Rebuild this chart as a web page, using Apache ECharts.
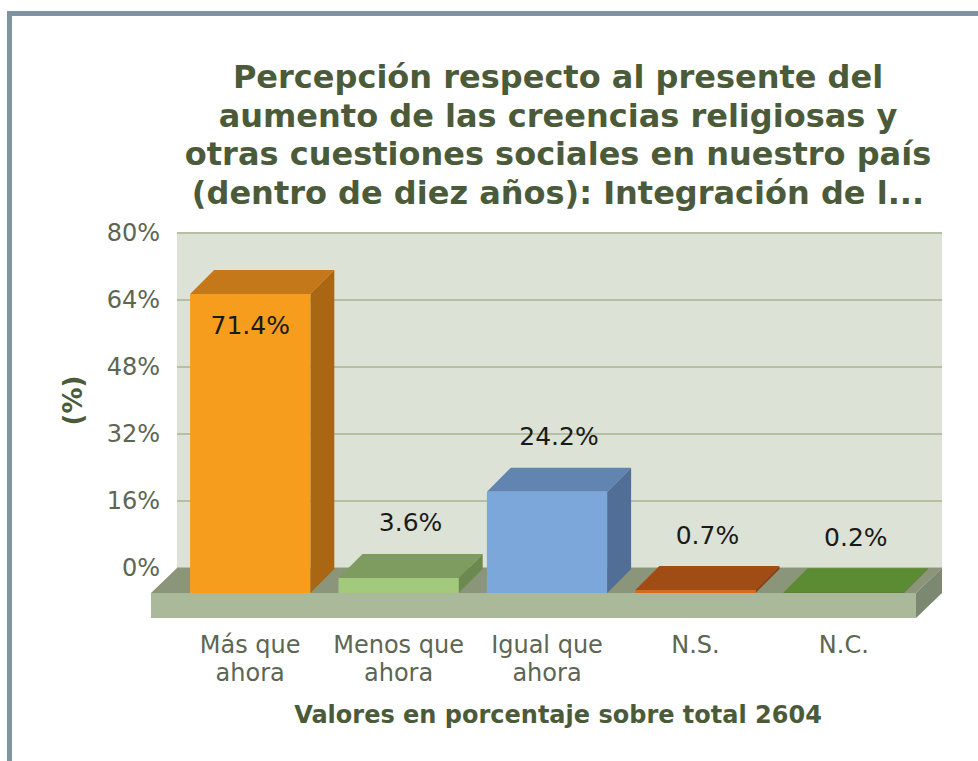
<!DOCTYPE html>
<html>
<head>
<meta charset="utf-8">
<script src="https://cdn.jsdelivr.net/npm/echarts@6/dist/echarts.min.js"></script>
<style>
  html, body { margin: 0; padding: 0; background: #fff; }
  #chart { width: 978px; height: 761px; }
</style>
</head>
<body>
<div id="chart"></div>
<script>
// datos del gráfico
const categories = ['Más que\nahora', 'Menos que\nahora', 'Igual que\nahora', 'N.S.', 'N.C.']
const values = [71.4, 3.6, 24.2, 0.7, 0.2]
const yMin = 0
const yMax = 80
const yStep = 16
const titleLines = [
  'Percepción respecto al presente del',
  'aumento de las creencias religiosas y',
  'otras cuestiones sociales en nuestro país',
  '(dentro de diez años): Integración de l...'
]
const xTitle = 'Valores en porcentaje sobre total 2604'
const yTitle = '(%)'

// colores de cada barra: frente, tapa, lateral
const barColors = [
  { front: '#f79d1e', top: '#c5781a', side: '#a96713' },
  { front: '#a3c97c', top: '#7e9c5f', side: '#6c8a50' },
  { front: '#7ba7db', top: '#6184b0', side: '#506e96' },
  { front: '#d86a1c', top: '#a04d15', side: '#8a4012' },
  { front: '#4e7c28', top: '#5b8b32', side: '#4a7426' }
]

const DX = 24, DY = -24       // profundidad de las barras
const FLOOR_DX = 26, FLOOR_DY = 25, FLOOR_H = 25
const TXT = '#4b5b3a'
const AXT = '#5c6653'
const FONT = '"DejaVu Sans", Verdana, sans-serif'

const chart = echarts.init(document.getElementById('chart'), null, { renderer: 'svg' })

function renderFloor(params, api) {
  const band = api.size([1, 0])[0]
  const first = api.coord([0, 0])
  const last = api.coord([categories.length - 1, 0])
  const bl = first[0] - band / 2, br = last[0] + band / 2, by = first[1]
  const fl = bl - FLOOR_DX, fr = br - FLOOR_DX, fy = by + FLOOR_DY
  return {
    type: 'group',
    children: [
      { type: 'polygon', shape: { points: [[bl, by], [br, by], [fr, fy], [fl, fy]] },
        style: { fill: '#8b9579' } },
      { type: 'rect', shape: { x: fl, y: fy, width: fr - fl, height: FLOOR_H },
        style: { fill: '#abb99b' } },
      { type: 'polygon', shape: { points: [[fr, fy], [br, by], [br, by + FLOOR_H], [fr, fy + FLOOR_H]] },
        style: { fill: '#7d8870' } }
    ]
  }
}

function renderBar(params, api) {
  const i = api.value(0)
  const v = api.value(1)
  const base = api.coord([i, 0])
  const top = api.coord([i, v])
  const w = api.size([1, 0])[0] * 0.81
  const xl = base[0] - w / 2, xr = base[0] + w / 2
  const yb = base[1], yt = top[1]
  const c = barColors[i]
  const inside = v / yMax > 0.75
  return {
    type: 'group',
    children: [
      { type: 'polygon', shape: { points: [[xl, yt], [xl + DX, yt + DY], [xr + DX, yt + DY], [xr, yt]] },
        style: { fill: c.top } },
      { type: 'polygon', shape: { points: [[xr, yt], [xr + DX, yt + DY], [xr + DX, yb + DY], [xr, yb]] },
        style: { fill: c.side } },
      { type: 'rect', shape: { x: xl, y: yt, width: w, height: yb - yt },
        style: { fill: c.front } },
      { type: 'text', x: inside ? base[0] : base[0] + DX / 2, y: inside ? yt + 31 : yt + DY - 31,
        style: { text: v.toFixed(1) + '%', fill: '#1a1a1a', fontSize: 25,
          fontFamily: FONT, align: 'center', verticalAlign: 'middle' } }
    ]
  }
}

const option = {
  backgroundColor: '#ffffff',
  animation: false,
  graphic: [
    { type: 'polyline', shape: { points: [[9.5, 761], [9.5, 13.5], [978, 13.5]] },
      style: { stroke: '#7f93a0', lineWidth: 5, fill: null } },
    { type: 'text', x: 558, y: 58,
      style: { text: titleLines.join('\n'), fill: TXT, fontSize: 32, fontWeight: 'bold',
        fontFamily: FONT, lineHeight: 38.5, align: 'center', verticalAlign: 'top' } },
    { type: 'text', x: 558, y: 715,
      style: { text: xTitle, fill: TXT, fontSize: 24, fontWeight: 'bold',
        fontFamily: FONT, align: 'center', verticalAlign: 'middle' } }
  ],
  grid: [
    { left: 177, top: 233, width: 765, height: 335, show: true, backgroundColor: '#dce2d5', borderWidth: 0 },
    { left: 176, top: 258, width: 742, height: 335 }
  ],
  xAxis: [
    { gridIndex: 0, type: 'category', data: categories, show: false },
    { gridIndex: 1, type: 'category', data: categories,
      axisLine: { show: false }, axisTick: { show: false },
      axisLabel: { color: AXT, fontSize: 24, lineHeight: 28, margin: 38,
        fontFamily: FONT, interval: 0 } }
  ],
  yAxis: [
    { gridIndex: 0, type: 'value', min: yMin, max: yMax, interval: yStep,
      name: yTitle, nameLocation: 'middle', nameRotate: 90, nameGap: 91,
      nameTextStyle: { color: TXT, fontSize: 26, fontWeight: 'bold', fontFamily: FONT },
      axisLine: { show: false }, axisTick: { show: false },
      axisLabel: { color: AXT, fontSize: 24, margin: 17, formatter: '{value}%', fontFamily: FONT },
      splitLine: { lineStyle: { color: '#b5c0a3', width: 2 } } },
    { gridIndex: 1, type: 'value', min: yMin, max: yMax, show: false, splitLine: { show: false } }
  ],
  series: [
    { type: 'custom', xAxisIndex: 0, yAxisIndex: 0, z: 2, renderItem: renderFloor,
      data: [[0, 0]], silent: true },
    { type: 'custom', xAxisIndex: 1, yAxisIndex: 1, z: 3, renderItem: renderBar,
      data: values.map((v, i) => [i, v]) }
  ]
}

chart.setOption(option)
</script>
</body>
</html>
